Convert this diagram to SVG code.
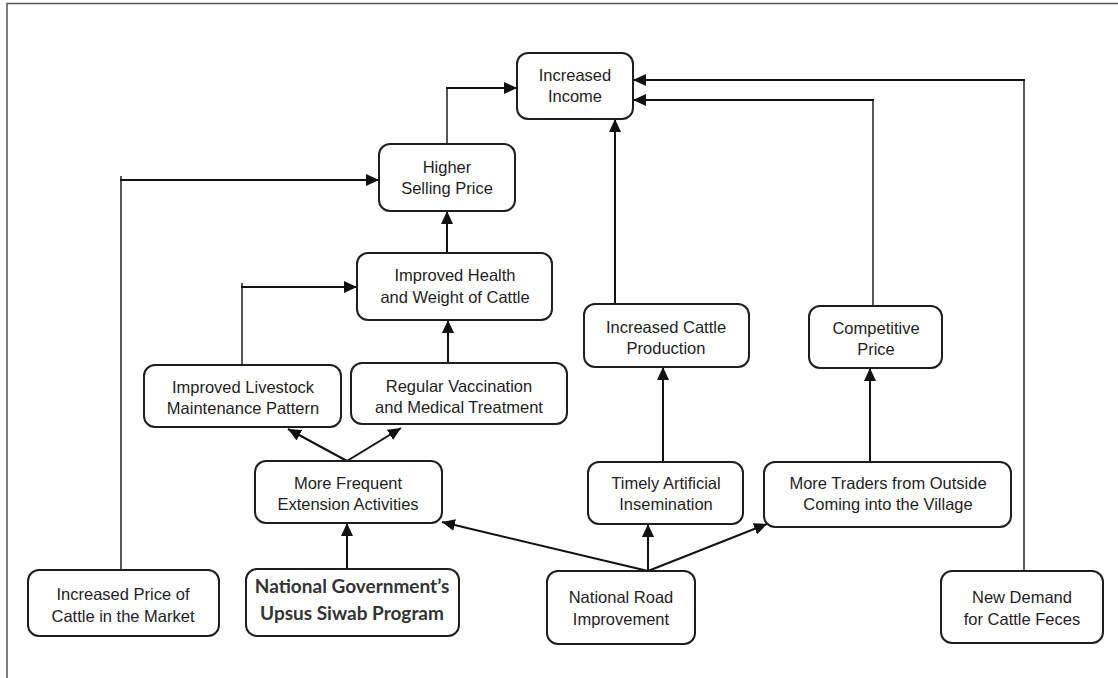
<svg xmlns="http://www.w3.org/2000/svg" width="1118" height="678" viewBox="0 0 1118 678">
  <style>
    .box { fill: #ffffff; stroke: #1e1e1e; stroke-width: 2; }
    .lbl { font-family: "Liberation Sans", Arial, sans-serif; font-size: 16.5px; fill: #1e1e1e; text-anchor: middle; }
    .bold { font-family: Lato, "Liberation Sans", sans-serif; font-size: 19px; font-weight: bold; fill: #333333; text-anchor: middle; }
    .arrow { fill: none; stroke: #111111; stroke-width: 2; marker-end: url(#head); }
    .plain { fill: none; stroke: #222222; stroke-width: 1.5; }
    .frame { fill: none; stroke: #555555; stroke-width: 1.5; }
  </style>
  <defs>
    <marker id="head" viewBox="0 0 13 12" refX="13" refY="6" markerWidth="13" markerHeight="12" markerUnits="userSpaceOnUse" orient="auto">
      <path d="M0,0 L13,6 L0,12 Z" fill="#111111"/>
    </marker>
  </defs>

  <rect width="1118" height="678" fill="#ffffff"/>
  <!-- outer frame (top and left edges) -->
  <path class="frame" d="M7,678 L7,3.5 L1118,3.5"/>

  <g id="connectors">
    <!-- Higher Selling Price -> Increased Income -->
    <path class="plain" d="M447,144 L447,88"/>
    <path class="arrow" d="M446,88 L517,88"/>
    <!-- New Demand for Cattle Feces -> Increased Income -->
    <path class="plain" d="M1024,571 L1024,80"/>
    <path class="arrow" d="M1025,80 L633,80"/>
    <!-- Competitive Price -> Increased Income -->
    <path class="plain" d="M873,306 L873,100"/>
    <path class="arrow" d="M874,100 L633,100"/>
    <!-- Increased Cattle Production -> Increased Income -->
    <path class="arrow" d="M615,304 L615,119"/>
    <!-- Increased Price of Cattle -> Higher Selling Price -->
    <path class="plain" d="M121,570 L121,176"/>
    <path class="arrow" d="M120,180 L379,180"/>
    <!-- Improved Health -> Higher Selling Price -->
    <path class="arrow" d="M447,253 L447,211"/>
    <!-- Livestock Maintenance -> Improved Health -->
    <path class="plain" d="M242,365 L242,283"/>
    <path class="arrow" d="M241,287 L357,287"/>
    <!-- Vaccination -> Improved Health -->
    <path class="arrow" d="M448,363 L448,320"/>
    <!-- Extension Activities -> Livestock / Vaccination -->
    <path class="arrow" d="M347,461 L288,429"/>
    <path class="arrow" d="M347,461 L401,428"/>
    <!-- Upsus Siwab Program -> Extension Activities -->
    <path class="arrow" d="M347,569 L347,523"/>
    <!-- National Road Improvement -> three targets -->
    <path class="arrow" d="M648,571 L442,522"/>
    <path class="arrow" d="M648,571 L648,524"/>
    <path class="arrow" d="M648,571 L767,524"/>
    <!-- Timely Insemination -> Cattle Production -->
    <path class="arrow" d="M663,462 L663,367"/>
    <!-- More Traders -> Competitive Price -->
    <path class="arrow" d="M870,462 L870,368"/>
  </g>

  <g id="increased-income">
    <rect class="box" x="517" y="53" width="116" height="66" rx="11"/>
    <text class="lbl" x="575" y="81">Increased</text>
    <text class="lbl" x="575" y="102">Income</text>
  </g>
  <g id="higher-selling-price">
    <rect class="box" x="379" y="144" width="136" height="67" rx="11"/>
    <text class="lbl" x="447" y="173">Higher</text>
    <text class="lbl" x="447" y="194">Selling Price</text>
  </g>
  <g id="improved-health">
    <rect class="box" x="357" y="253" width="195" height="67" rx="11"/>
    <text class="lbl" x="455" y="281">Improved Health</text>
    <text class="lbl" x="455" y="303">and Weight of Cattle</text>
  </g>
  <g id="livestock-maintenance">
    <rect class="box" x="144" y="365" width="197" height="62" rx="11"/>
    <text class="lbl" x="243" y="393">Improved Livestock</text>
    <text class="lbl" x="243" y="414">Maintenance Pattern</text>
  </g>
  <g id="vaccination">
    <rect class="box" x="351" y="363" width="216" height="61" rx="11"/>
    <text class="lbl" x="459" y="392">Regular Vaccination</text>
    <text class="lbl" x="459" y="413">and Medical Treatment</text>
  </g>
  <g id="extension-activities">
    <rect class="box" x="255" y="461" width="187" height="62" rx="11"/>
    <text class="lbl" x="348" y="489">More Frequent</text>
    <text class="lbl" x="348" y="510">Extension Activities</text>
  </g>
  <g id="cattle-production">
    <rect class="box" x="584" y="304" width="165" height="63" rx="11"/>
    <text class="lbl" x="666" y="333">Increased Cattle</text>
    <text class="lbl" x="666" y="354">Production</text>
  </g>
  <g id="competitive-price">
    <rect class="box" x="809" y="306" width="133" height="62" rx="11"/>
    <text class="lbl" x="876" y="334">Competitive</text>
    <text class="lbl" x="876" y="355">Price</text>
  </g>
  <g id="artificial-insemination">
    <rect class="box" x="588" y="462" width="155" height="62" rx="11"/>
    <text class="lbl" x="666" y="489">Timely Artificial</text>
    <text class="lbl" x="666" y="510">Insemination</text>
  </g>
  <g id="more-traders">
    <rect class="box" x="764" y="462" width="247" height="65" rx="11"/>
    <text class="lbl" x="888" y="489">More Traders from Outside</text>
    <text class="lbl" x="888" y="510">Coming into the Village</text>
  </g>
  <g id="cattle-price-market">
    <rect class="box" x="28" y="570" width="191" height="66" rx="11"/>
    <text class="lbl" x="123" y="600">Increased Price of</text>
    <text class="lbl" x="123" y="622">Cattle in the Market</text>
  </g>
  <g id="upsus-siwab">
    <rect class="box" x="246" y="569" width="213" height="67" rx="11"/>
    <text class="bold" x="352" y="593">National Government’s</text>
    <text class="bold" x="352" y="620">Upsus Siwab Program</text>
  </g>
  <g id="road-improvement">
    <rect class="box" x="547" y="571" width="148" height="73" rx="11"/>
    <text class="lbl" x="621" y="603">National Road</text>
    <text class="lbl" x="621" y="625">Improvement</text>
  </g>
  <g id="cattle-feces">
    <rect class="box" x="941" y="571" width="162" height="72" rx="11"/>
    <text class="lbl" x="1022" y="603">New Demand</text>
    <text class="lbl" x="1022" y="625">for Cattle Feces</text>
  </g>
</svg>
